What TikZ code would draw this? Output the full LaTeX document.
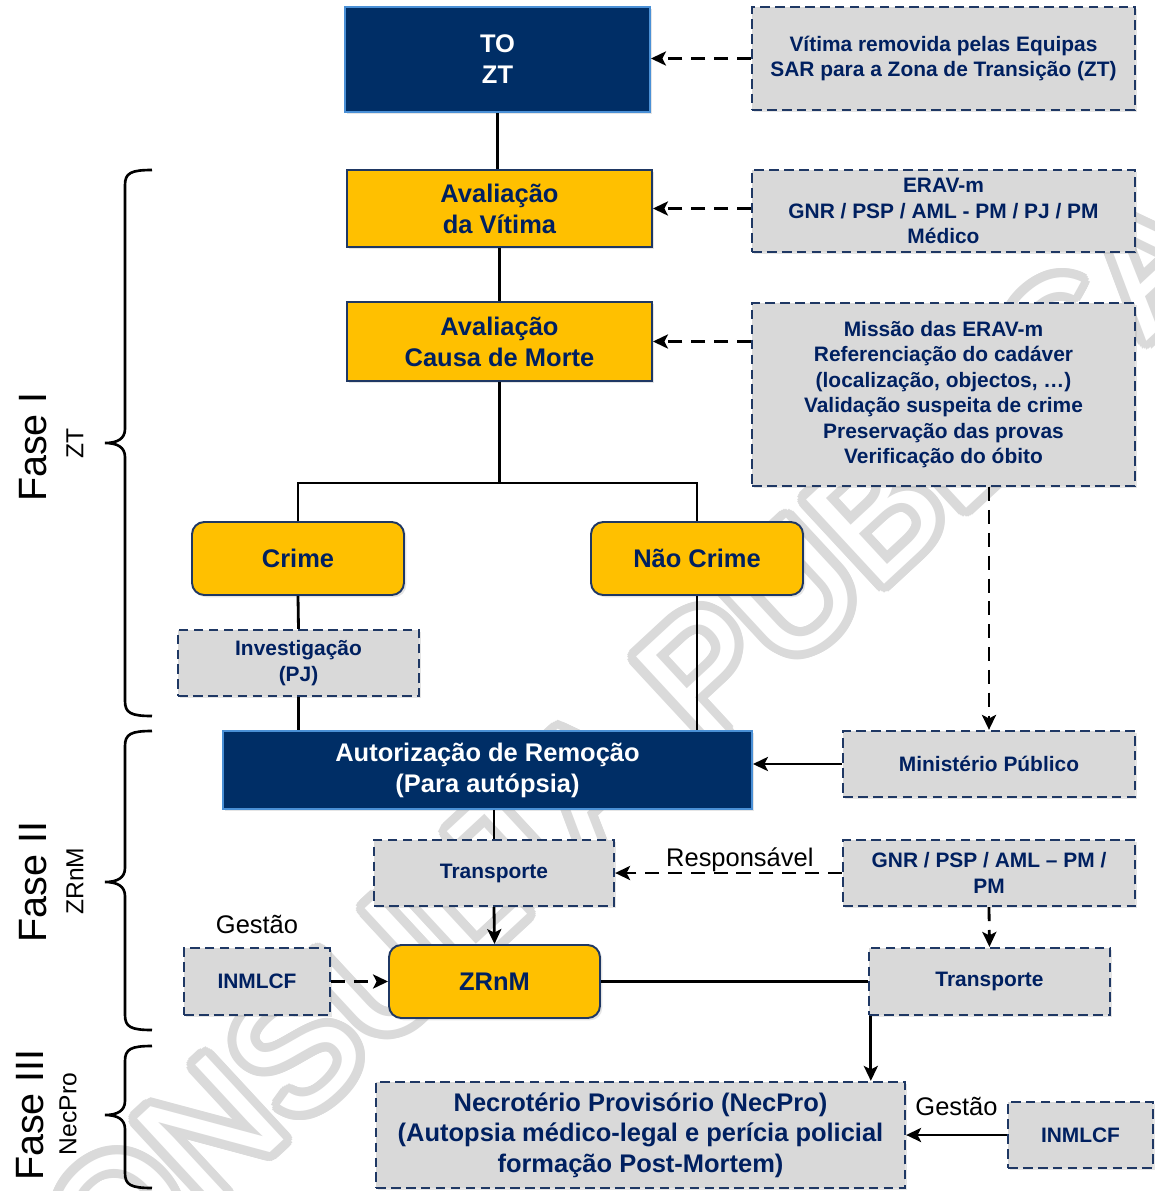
\documentclass[tikz,border=0pt]{standalone}
\usepackage{fontspec}
\setmainfont{Liberation Sans}
\usepackage{xcolor}
\usepackage{tikz}
\usetikzlibrary{arrows.meta, positioning, calc, shadows}

\definecolor{navyfill}{RGB}{0,46,102}
\definecolor{navyedge}{RGB}{74,144,214}
\definecolor{gold}{RGB}{255,192,0}
\definecolor{inkblue}{RGB}{0,32,96}
\definecolor{boxedge}{RGB}{31,56,100}
\definecolor{boxgrey}{RGB}{217,217,217}
\definecolor{wmgrey}{RGB}{218,218,218}

\newcommand\bigtext{\fontsize{14.5pt}{17.6pt}\selectfont\bfseries}
\newcommand\smalltext{\fontsize{11.9pt}{14.5pt}\selectfont\bfseries}
\newcommand\notetext{\fontsize{14.5pt}{17pt}\selectfont}

% curly brace of a phase: top, tip, bottom (in pixels)
\newcommand\phasebrace[3]{%
  \draw[bracestroke] (152,#1) .. controls (131,#1) and (125,#1+3) .. (125,#1+15)
    -- (125,#2-14) .. controls (125,#2-4) and (117,#2) .. (105,#2)
    .. controls (117,#2) and (125,#2+4) .. (125,#2+14)
    -- (125,#3-15) .. controls (125,#3-3) and (131,#3) .. (152,#3);}

\begin{document}
\begin{tikzpicture}[
    x=0.02cm, y=-0.02cm,
    boxsize/.style 2 args={minimum width=#1*0.02cm, minimum height=#2*0.02cm},
    softshadow/.style={drop shadow={shadow xshift=1.3pt, shadow yshift=-1.3pt, opacity=0.2}},
    navynode/.style={rectangle, draw=navyedge, line width=1.1pt, fill=navyfill, text=white, font=\bigtext, align=center, inner sep=0pt, softshadow},
    goldnode/.style={rectangle, draw=boxedge, line width=1.1pt, fill=gold, text=inkblue, font=\bigtext, align=center, inner sep=0pt, softshadow},
    goldround/.style={goldnode, rounded corners=7pt},
    greynode/.style={rectangle, draw=boxedge, line width=1.3pt, dash pattern=on 5.5pt off 3pt, fill=boxgrey, text=inkblue, font=\smalltext, align=center, inner sep=0pt, softshadow},
    greybig/.style={greynode, font=\bigtext},
    note/.style={font=\notetext, inner sep=0pt},
    phase/.style={font=\fontsize{22.5pt}{24pt}\selectfont, rotate=90, inner sep=0pt},
    zone/.style={font=\fontsize{14pt}{16pt}\selectfont, rotate=90, inner sep=0pt},
    link/.style={line width=1.6pt, black},
    arr/.style={link, -{Stealth[length=8.5pt, width=8pt, inset=2pt]}},
    darr/.style={arr, dash pattern=on 8pt off 5pt},
    bracestroke/.style={line width=1.5pt, black},
    watermark/.style={font=\fontsize{95pt}{97pt}\selectfont, rotate=42.8, inner sep=0pt}
]

\useasboundingbox (0,0) rectangle (1155,1191);
\fill[white] (0,0) rectangle (1155,1191);

% Watermark (outlined letters)
\foreach \a in {0,15,...,345}
  \node[watermark, text=wmgrey] (wm\a) at ($(586,782)+(\a:9)$) {CONSULTA PUBLICA};
\node[watermark, text=white] (wm) at (586,782) {CONSULTA PUBLICA};

% Fase I - ZT
\node[navynode, boxsize={305}{105}] (to) at (497.5,59.5) {TO\\ZT};
\node[greynode, boxsize={383}{103}] (sar) at (943.5,58.5) {Vítima removida pelas Equipas\\SAR para a Zona de Transição (ZT)};
\node[goldnode, boxsize={305}{77}] (avalv) at (499.5,208.5) {Avaliação\\da Vítima};
\node[greynode, boxsize={383}{82}] (erav) at (943.5,211) {ERAV-m\\GNR / PSP / AML - PM / PJ / PM\\Médico};
\node[goldnode, boxsize={305}{79}] (avalc) at (499.5,341.5) {Avaliação\\Causa de Morte};
\node[greynode, boxsize={383}{183}] (missao) at (943.5,394.5) {Missão das ERAV-m\\Referenciação do cadáver\\(localização, objectos, \dots)\\Validação suspeita de crime\\Preservação das provas\\Verificação do óbito};
\node[goldround, boxsize={212}{73}] (crime) at (298,558.5) {Crime};
\node[goldround, boxsize={212}{73}] (naocrime) at (697,558.5) {Não Crime};
\node[greynode, boxsize={241}{66}] (invest) at (298.5,663) {Investigação\\(PJ)};

% Fase II - ZRnM
\node[navynode, boxsize={529}{78}] (autoriz) at (487.5,770) {Autorização de Remoção\\(Para autópsia)};
\node[greynode, boxsize={292}{66}] (minist) at (989,764) {Ministério Público};
\node[greynode, boxsize={240}{66}] (transp1) at (494,873) {Transporte};
\node[greynode, boxsize={292}{66}] (gnr) at (989,873) {GNR / PSP / AML -- PM /\\PM};
\node[goldround, boxsize={211}{73}] (zrnm) at (494.5,981.5) {ZRnM};
\node[greynode, boxsize={146}{67}] (inml1) at (257,981.5) {INMLCF};
\node[note, above=7.5pt of inml1] (gest1) {Gestão};
\node[greynode, boxsize={241}{67}] (transp2) at (989.5,981.5) {Transporte};

% Fase III - NecPro
\node[greybig, boxsize={529}{106}, font=\fontsize{14.5pt}{17.3pt}\selectfont\bfseries] (necpro) at (640.5,1135) {Necrotério Provisório (NecPro)\\(Autopsia médico-legal e perícia policial\\formação Post-Mortem)};
\node[greynode, boxsize={145}{66}] (inml2) at (1080.5,1135) {INMLCF};

% Phase labels
\node[phase] (fase1) at (33,447) {Fase I};
\node[zone] (zt) at (75,443) {ZT};
\node[phase] (fase2) at (33,882) {Fase II};
\node[zone] (zrnmlbl) at (75,881) {ZRnM};
\node[phase] (fase3) at (30,1115) {Fase III};
\node[zone] (necprolbl) at (68,1114) {NecPro};

\phasebrace{170}{443}{716}
\phasebrace{731}{882}{1030}
\phasebrace{1046}{1115}{1188}

% Main flow
\draw[link] (to.south) -- (to.south |- avalv.north);
\draw[link] (avalv.south) -- (avalv.south |- avalc.north);
\coordinate (fork) at ($(avalc.south)+(0,101)$);
\draw[link] (avalc.south) -- (fork);
\draw[link] (crime.north) |- (fork) -| (naocrime.north);
\draw[link] (crime.south) -- (invest.north);
\draw[link] (invest.south) -- (invest.south |- autoriz.north);
\draw[link] (naocrime.south) -- (naocrime.south |- autoriz.north);
\draw[link] (transp1.north |- autoriz.south) -- (transp1.north);
\draw[arr] (transp1.south) -- (zrnm.north);
\draw[link] (zrnm.east) -- (transp2.west);
\coordinate (drop) at ([xshift=1.7pt]transp2.south west);
\draw[arr] (drop) -- (drop |- necpro.north);

% Inputs
\draw[darr] (sar.west) -- (sar.west -| to.east);
\draw[darr] (erav.west |- avalv.east) -- (avalv.east);
\draw[darr] (missao.west |- avalc.east) -- (avalc.east);
\draw[darr] (minist.north |- missao.south) -- (minist.north);
\draw[arr] (minist.west) -- (minist.west -| autoriz.east);
\draw[darr] (gnr.west) -- node[note, above=0pt, pos=0.45] (resp) {Responsável} (transp1.east);
\draw[darr] (gnr.south) -- (transp2.north);
\draw[darr] (inml1.east) -- (zrnm.west);
\draw[arr] (inml2.west) -- node[note, above=10pt] (gest2) {Gestão} (necpro.east);

\end{tikzpicture}
\end{document}
